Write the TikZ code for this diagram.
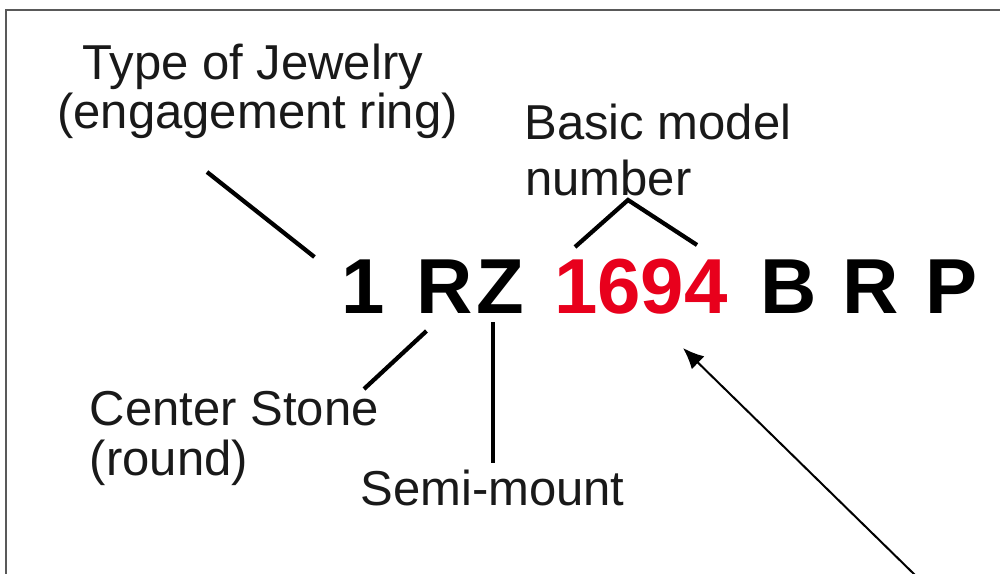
\documentclass[tikz,border=0pt]{standalone}
\usepackage{fontspec}
\setmainfont{Liberation Sans}
\usetikzlibrary{arrows.meta,calc}
\definecolor{codered}{RGB}{232,0,28}

\begin{document}
\begin{tikzpicture}[x=0.02cm,y=-0.02cm,
  txt/.style={anchor=base west,inner sep=0,text=black!90,font=\fontsize{27.9}{33}\selectfont},
  code/.style={anchor=base,inner sep=0,font=\fontsize{44.4}{50}\selectfont\bfseries},
  lead/.style={line width=0.85mm},
  pointer/.style={line width=0.4mm,-{Latex[length=4.2mm,width=3.6mm]}},
  frame/.style={draw=black!65,line width=0.3mm}]
\useasboundingbox (0,0) rectangle (1000,574);
\draw[frame] (6,574) -- (6,10) -- (1000,10);
\node[txt] (type1) at (82,80) {Type of Jewelry};
\node[txt] (type2) at (57,129) {(engagement ring)};
\node[txt] (basic1) at (524,140) {Basic model};
\node[txt] (basic2) at (525,195) {number};
\node[txt] (stone1) at (89.5,425) {Center Stone};
\node[txt] (stone2) at (89.5,475) {(round)};
\node[txt] (semi) at (360,505) {Semi-mount};
\node[code] (one) at (363,313) {1};
\node[code] (stone) at (445,313) {R};
\node[code] (mount) at (500,313) {Z};
\node[code,text=codered] (model) at (641,313) {1694};
\foreach \c/\x in {B/789,R/871,P/952}
  \node[code] (opt\c) at (\x,313) {\c};
\draw[lead] ($(type2.base west)+(150,43)$) -- ($(one.base west)+(-26.5,-56)$);
\draw[lead] ($(stone.base west)+(10,18)$) -- ($(stone1.base west)+(274.5,-36)$);
\draw[lead] ($(mount.base)+(-7,9)$) -- ($(semi.base west)+(133,-42)$);
\draw[lead] ($(model.base)+(-66,-66)$) -- ($(basic2.base west)+(103,5)$) -- ($(model.base)+(56,-68)$);
\coordinate (tail) at (916,576);
\draw[pointer] (tail) -- ($(model.base)+(42,35)$);
\end{tikzpicture}
\end{document}
